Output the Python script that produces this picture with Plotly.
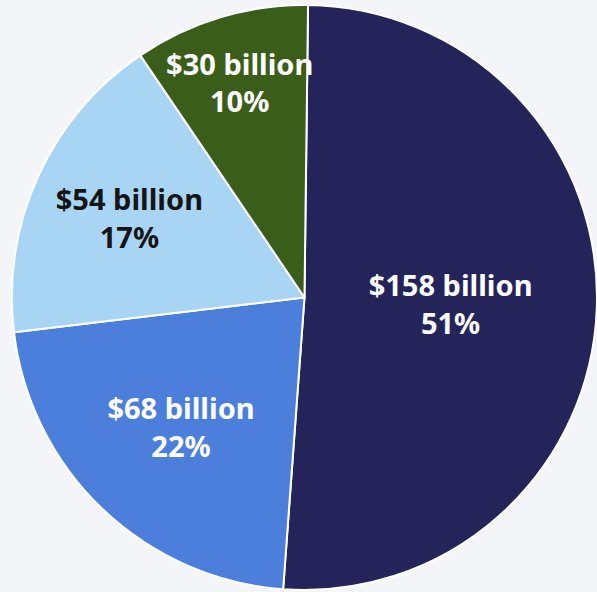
import plotly.graph_objects as go

labels = ["Segment A", "Segment B", "Segment C", "Segment D"]
values = [158, 68, 54, 30]
colors = ["#25245a", "#4b7fdb", "#a9d5f5", "#3a5d1a"]
text_colors = ["#ffffff", "#ffffff", "#151515", "#ffffff"]

fig = go.Figure(go.Pie(
    labels=labels,
    values=values,
    sort=False,
    direction="clockwise",
    rotation=0.7,
    marker=dict(colors=colors, line=dict(color="#ffffff", width=2)),
    texttemplate="$%{value} billion<br>%{percent:.0%}",
    textposition="inside",
    insidetextorientation="horizontal",
    insidetextfont=dict(family="Noto Sans", size=29, color=text_colors, weight="bold"),
    hoverinfo="skip",
    showlegend=False,
    domain=dict(x=[0.02, 1], y=[0.0, 0.995]),
))

fig.update_layout(
    width=597, height=592,
    margin=dict(l=0, r=0, t=0, b=0),
    paper_bgcolor="#f3f5f9",
    plot_bgcolor="#f3f5f9",
    uniformtext=dict(minsize=29, mode="show"),
)

fig.write_html(
    "out.html",
    config={"displayModeBar": False},
    post_script="document.body.style.margin='0';document.body.style.overflow='hidden';",
)
